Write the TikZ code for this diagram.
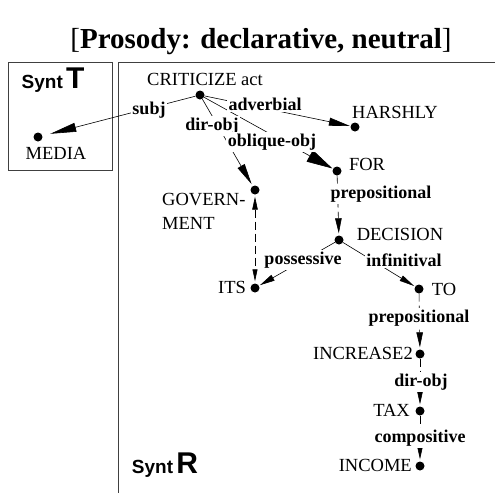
\documentclass[tikz,border=0pt]{standalone}
\usepackage{fontspec}
\setmainfont{Liberation Serif}
\setsansfont{Liberation Sans}
\usetikzlibrary{arrows.meta}

\begin{document}
\begin{tikzpicture}[x=1pt,y=-1pt,
  dot/.style={circle,fill=black,inner sep=0pt,minimum size=9pt},
  word/.style={font=\fontsize{18.5}{24}\selectfont,inner sep=0pt},
  elab/.style={font=\bfseries\fontsize{18}{20}\selectfont,fill=white,inner sep=1.5pt},
  dep/.style={line width=0.6pt},
  dashdep/.style={dep,dash pattern=on 8pt off 4pt},
  frame/.style={line width=1pt,draw=black!75},
  synt/.style={inner sep=0pt,font=\sffamily\bfseries\fontsize{19}{22}\selectfont},
  headL/.style={-{Triangle[length=26pt,width=9pt]}},
  headM/.style={-{Triangle[length=21pt,width=8pt]}},
  headW/.style={-{Triangle[length=26pt,width=13pt]}},
  headS/.style={-{Triangle[length=15pt,width=6.5pt]}},
]
\useasboundingbox (0,0) rectangle (496,493);

% title
\node[inner sep=0pt,font=\fontsize{29}{31}\selectfont] (title) at (261,42)
  {[\textbf{Prosody: declarative, neutral}]};

% the two syntactic levels
\draw[frame] (8,62) rectangle (112,170);
\node[synt] (syntT) at (53,80) {Synt\,{\fontsize{30}{30}\selectfont T}};
\draw[frame] (118,493) -- (118,62) -- (495,62);
\node[synt] (syntR) at (165,465) {Synt\,{\fontsize{30}{30}\selectfont R}};

% dots of the tree
\node[dot] (media)  at (38,137) {};
\node[dot] (crit)   at (200,95) {};
\node[dot] (harsh)  at (355,127) {};
\node[dot] (gov)    at (255,190) {};
\node[dot] (for)    at (337,171) {};
\node[dot] (dec)    at (339,240) {};
\node[dot] (its)    at (255,288) {};
\node[dot] (to)     at (419,289) {};
\node[dot] (inc)    at (420,354) {};
\node[dot] (tax)    at (420,411) {};
\node[dot] (income) at (420,466) {};

% words
\node[word] (wmedia)  at (56,153)  {MEDIA};
\node[word] (wcrit)   at (205,79)  {CRITICIZE act};
\node[word] (wharsh)  at (395,112) {HARSHLY};
\node[word,anchor=west,align=left] (wgov) at (162,211) {GOVERN-\\MENT};
\node[word] (wfor)    at (367,164) {FOR};
\node[word] (wdec)    at (400,234) {DECISION};
\node[word] (wits)    at (232,287) {ITS};
\node[word] (wto)     at (444,289) {TO};
\node[word,anchor=east] (winc) at (413,353) {INCREASE2};
\node[word,anchor=east] (wtax) at (410,410) {TAX};
\node[word,anchor=east] (wincome) at (412,465) {INCOME};

% dependencies
\draw[dep,headL,shorten >=8pt] (crit) -- (media);
\draw[dep,headM,shorten >=0.5pt] (crit) -- (harsh);
\draw[dep,headM,shorten >=2pt] (crit) -- (gov);
\draw[dep,headW,shorten >=0.5pt] (crit) -- (for);
\draw[dashdep,headS,shorten >=2pt] (for) -- (dec);
\draw[dashdep,{Triangle[length=13pt,width=5.5pt]}-{Triangle[length=12pt,width=5pt]},
      shorten >=2pt,shorten <=2pt] (gov) -- (its);
\draw[dep,headS,shorten >=1pt] (dec) -- (its);
\draw[dep,-{Triangle[length=15pt,width=6pt]},shorten >=1pt] (dec) -- (to);
\draw[dashdep,headS,shorten >=2pt] (to) -- (inc);
\draw[dashdep,headS,shorten >=2pt] (inc) -- (tax);
\draw[dashdep,headS,shorten >=2pt] (tax) -- (income);

% relation names
\node[elab] (lsubj) at (149,110) {subj};
\node[elab] (ladv)  at (265,104) {adverbial};
\node[elab] (ldir)  at (212,126) {dir-obj};
\node[elab] (lobl)  at (272,142) {oblique-obj};
\node[elab] (lprep) at (381,194) {prepositional};
\node[elab] (lposs) at (303,260) {possessive};
\node[elab] (linf)  at (404,260) {infinitival};
\node[elab] (lprep2) at (419,318) {prepositional};
\node[elab] (ldir2) at (421,382) {dir-obj};
\node[elab] (lcomp) at (420,438) {compositive};
\end{tikzpicture}
\end{document}
